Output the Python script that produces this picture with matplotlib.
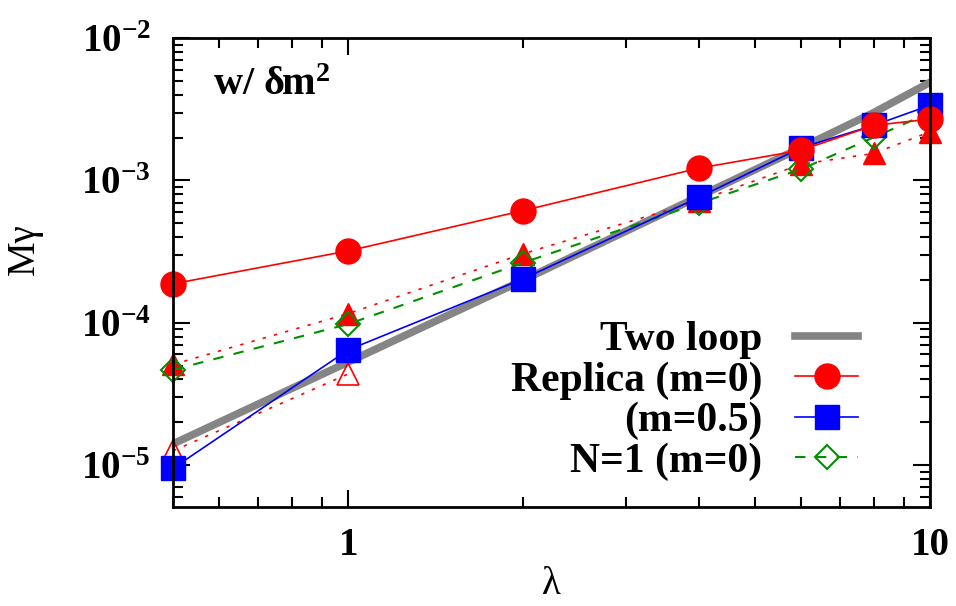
import matplotlib
matplotlib.use("Agg")
import matplotlib.pyplot as plt
from matplotlib.ticker import FixedLocator, NullFormatter, LogLocator

plt.rcParams['font.family'] = ['Liberation Serif', 'DejaVu Serif']
plt.rcParams['font.weight'] = 'bold'
plt.rcParams['mathtext.fontset'] = 'custom'
plt.rcParams['mathtext.rm'] = 'Liberation Serif:bold'
plt.rcParams['mathtext.bf'] = 'Liberation Serif:bold'
plt.rcParams['mathtext.it'] = 'Liberation Serif:italic:bold'

# data
lam = [0.5, 1, 2, 4, 6, 8, 10]
two_loop = [1.41e-5, 5.3e-5, 2.0e-4, 7.7e-4, 1.7e-3, 3.0e-3, 4.9e-3]
replica_m0 = [1.88e-4, 3.2e-4, 6.15e-4, 1.22e-3, 1.63e-3, 2.44e-3, 2.7e-3]
replica_m05 = [9.5e-6, 6.45e-5, 2.04e-4, 7.6e-4, 1.7e-3, 2.44e-3, 3.38e-3]
n1_m0 = [4.67e-5, 9.8e-5, 2.65e-4, 6.9e-4, 1.2e-3, 2.01e-3, 3.01e-3]
tri_filled = [5.1e-5, 1.16e-4, 3.06e-4, 7.2e-4, 1.3e-3, 1.55e-3, 2.2e-3]
lam_open = [0.5, 1]
tri_open = [1.26e-5, 4.37e-5]

fig = plt.figure(figsize=(9.56, 6.06), dpi=100)
ax = fig.add_axes([0.181, 0.163, 0.792, 0.774])

ax.plot(lam, two_loop, color='#858585', lw=5.5, label='Two loop', zorder=2)
ax.plot(lam, tri_filled, color='red', lw=1.2, ls=(0, (2, 5)), marker='^', ms=16,
        zorder=3, clip_on=False)
ax.plot(lam_open, tri_open, color='red', lw=1.2, ls=(0, (2, 5)), marker='^', ms=16,
        mfc='none', mew=1.2, zorder=3, clip_on=False)
ax.plot(lam, n1_m0, color='#009000', lw=1.5, ls=(0, (5, 5)), marker='D', ms=12,
        mfc='none', mew=1.5, label='N=1 (m=0)', zorder=4, clip_on=False)
ax.plot(lam, replica_m05, color='blue', lw=1.2, marker='s', ms=17,
        label='(m=0.5)', zorder=5, clip_on=False)
ax.plot(lam, replica_m0, color='red', lw=1.2, marker='o', ms=18,
        label='Replica (m=0)', zorder=6, clip_on=False)

ax.set_xscale('log')
ax.set_yscale('log')
ax.set_xlim(0.5, 10)
ax.set_ylim(5.06e-6, 1e-2)

ax.xaxis.set_major_locator(FixedLocator([1, 10]))
ax.set_xticklabels(['1', '10'])
ax.xaxis.set_minor_locator(FixedLocator([0.5, 0.6, 0.7, 0.8, 0.9, 2, 3, 4, 5, 6, 7, 8, 9]))
ax.xaxis.set_minor_formatter(NullFormatter())
ax.yaxis.set_major_locator(LogLocator(base=10, numticks=10))
ax.yaxis.set_minor_locator(LogLocator(base=10, subs=range(2, 10), numticks=20))
ax.yaxis.set_minor_formatter(NullFormatter())

ax.tick_params(which='both', direction='in', top=True, right=True, width=1.5)
ax.tick_params(which='major', length=12)
ax.tick_params(which='minor', length=7)
ax.tick_params(axis='x', labelsize=28, pad=14)
ax.tick_params(axis='y', labelsize=28, pad=16)
for s in ax.spines.values():
    s.set_linewidth(2)
    s.set_zorder(10)

ax.set_xlabel('λ', fontsize=28, fontweight='normal', labelpad=2)
ax.set_ylabel('Mγ', fontsize=28)
ax.yaxis.set_label_coords(-0.172, 0.55)

ax.text(0.053, 0.878, r'w/ δm$^{\mathbf{2}}$', transform=ax.transAxes,
        fontsize=29, va='baseline')

h, l = ax.get_legend_handles_labels()
order = [l.index('Two loop'), l.index('Replica (m=0)'), l.index('(m=0.5)'), l.index('N=1 (m=0)')]
ax.legend([h[i] for i in order], [l[i] for i in order], loc='lower right',
          bbox_to_anchor=(0.932, 0.012), frameon=False, markerfirst=False,
          fontsize=30, handlelength=1.5, labelspacing=0.05, borderpad=0,
          handletextpad=0.8)

fig.savefig('out.png', dpi=100)
